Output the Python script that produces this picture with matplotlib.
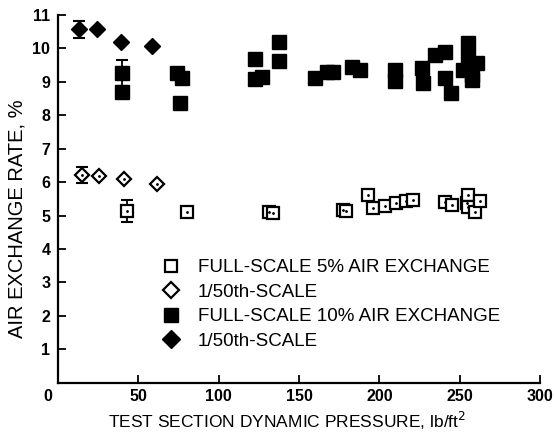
"""
Air exchange rate against test section dynamic pressure,
full-scale tunnel vs 1/50th-scale model.
"""
import matplotlib
matplotlib.use("Agg")
import matplotlib.pyplot as plt
from matplotlib.lines import Line2D
from matplotlib.transforms import ScaledTranslation

plt.rcParams['font.family'] = ['Liberation Sans', 'DejaVu Sans']

# full-scale, 5% air exchange (open squares)
full5_x = [42.7, 80.1, 131.5, 134.0, 177.5, 179.5, 192.7, 196.2, 203.5, 210.3,
           216.6, 221.0, 240.8, 245.0, 254.3, 255.3, 255.3, 259.5, 262.6]
full5_y = [5.14, 5.11, 5.10, 5.08, 5.16, 5.14, 5.61, 5.22, 5.29, 5.37,
           5.44, 5.47, 5.41, 5.32, 5.37, 5.61, 5.26, 5.12, 5.44]

# 1/50th-scale, 5% (open diamonds)
model5_x = [14.7, 25.5, 41.3, 61.8]
model5_y = [6.21, 6.19, 6.08, 5.93]

# full-scale, 10% air exchange (filled squares)
full10_x = [39.6, 39.6, 73.9, 77.0, 75.9, 122.6, 137.5, 137.5, 122.6, 126.8,
            159.9, 167.2, 171.3, 182.8, 187.9, 209.7, 209.7, 226.3, 227.3,
            234.6, 240.8, 240.8, 244.6, 255.3, 255.3, 260.5, 252.2, 257.4,
            257.4]
full10_y = [9.26, 8.70, 9.26, 9.11, 8.36, 9.67, 10.20, 9.62, 9.08, 9.15,
            9.11, 9.30, 9.30, 9.45, 9.35, 9.34, 9.02, 9.40, 8.96,
            9.80, 9.90, 9.10, 8.66, 10.15, 9.75, 9.55, 9.35, 9.20,
            9.05]

# 1/50th-scale, 10% (filled diamonds)
model10_x = [13.3, 24.5, 39.2, 58.7]
model10_y = [10.57, 10.58, 10.19, 10.08]

# error bars: x, y, half-height
err_x = [14.7, 13.3, 42.7, 39.6]
err_y = [6.21, 10.57, 5.14, 9.26]
err_h = [0.23, 0.25, 0.32, 0.39]

x_ticks = [0, 50, 100, 150, 200, 250, 300]
y_ticks = [1, 2, 3, 4, 5, 6, 7, 8, 9, 10, 11]

legend_labels = ["FULL-SCALE 5% AIR EXCHANGE", "1/50th-SCALE",
                 "FULL-SCALE 10% AIR EXCHANGE", "1/50th-SCALE"]

fig = plt.figure(figsize=(5.55, 4.37), dpi=100)
ax = fig.add_axes([0.1045, 0.1243, 0.8685, 0.8414])

ax.errorbar(err_x, err_y, yerr=err_h, fmt='none', ecolor='black',
            elinewidth=1.3, capsize=4, capthick=1.5, zorder=2)

ax.plot(full10_x, full10_y, 's', ms=9.5, color='black', zorder=3)
ax.plot(model10_x, model10_y, 'D', ms=8, color='black', zorder=3)
ax.plot(full5_x, full5_y, 's', ms=8, mfc='white', mec='black', mew=1.6,
        zorder=3)
ax.plot(model5_x, model5_y, 'D', ms=7.5, mfc='white', mec='black', mew=1.6,
        zorder=3)
# centre dots of the open symbols
ax.plot(full5_x + model5_x, full5_y + model5_y, '.', ms=2, color='black',
        zorder=4)

ax.set_xlim(0, 300)
ax.set_ylim(0, 11)
ax.set_xticks(x_ticks)
ax.set_xticklabels([str(t) for t in x_ticks])
ax.set_yticks(y_ticks)
ax.set_yticklabels([str(t) for t in y_ticks])
ax.tick_params(direction='in', length=6, width=1.3, labelsize=11.5)
ax.tick_params(axis='x', pad=4.5)
ax.tick_params(axis='y', pad=5.5)
for lab in ax.get_xticklabels() + ax.get_yticklabels():
    lab.set_fontweight('bold')
# the "0" sits off the corner, shared by both axes
zero = ax.get_xticklabels()[0]
zero.set_transform(zero.get_transform() +
                   ScaledTranslation(-7 / 72, 0, fig.dpi_scale_trans))

for side in ['top', 'right']:
    ax.spines[side].set_visible(False)
for side in ['left', 'bottom']:
    ax.spines[side].set_linewidth(1.6)

ax.set_xlabel("TEST SECTION DYNAMIC PRESSURE, lb/ft$^2$", fontsize=12.5,
              labelpad=3)
ax.xaxis.set_label_coords(0.475, -0.075)
ax.xaxis.label.set_va('top')
ax.set_ylabel("AIR EXCHANGE RATE, %", fontsize=14.5)
ax.yaxis.set_label_coords(-0.066, 0.445)

handles = [
    Line2D([], [], ls='none', marker='s', ms=9, mfc='white', mec='black',
           mew=1.6),
    Line2D([], [], ls='none', marker='D', ms=8, mfc='white', mec='black',
           mew=1.6),
    Line2D([], [], ls='none', marker='s', ms=10, color='black'),
    Line2D([], [], ls='none', marker='D', ms=9, color='black'),
]
ax.legend(handles, legend_labels, loc='upper left',
          bbox_to_anchor=(162 / 555, 1 - 259 / 437),
          bbox_transform=fig.transFigure, frameon=False, fontsize=13.5,
          handlelength=1.0, handletextpad=0.9, labelspacing=0.4,
          borderaxespad=0, borderpad=0)

fig.savefig("out.png", dpi=100)
